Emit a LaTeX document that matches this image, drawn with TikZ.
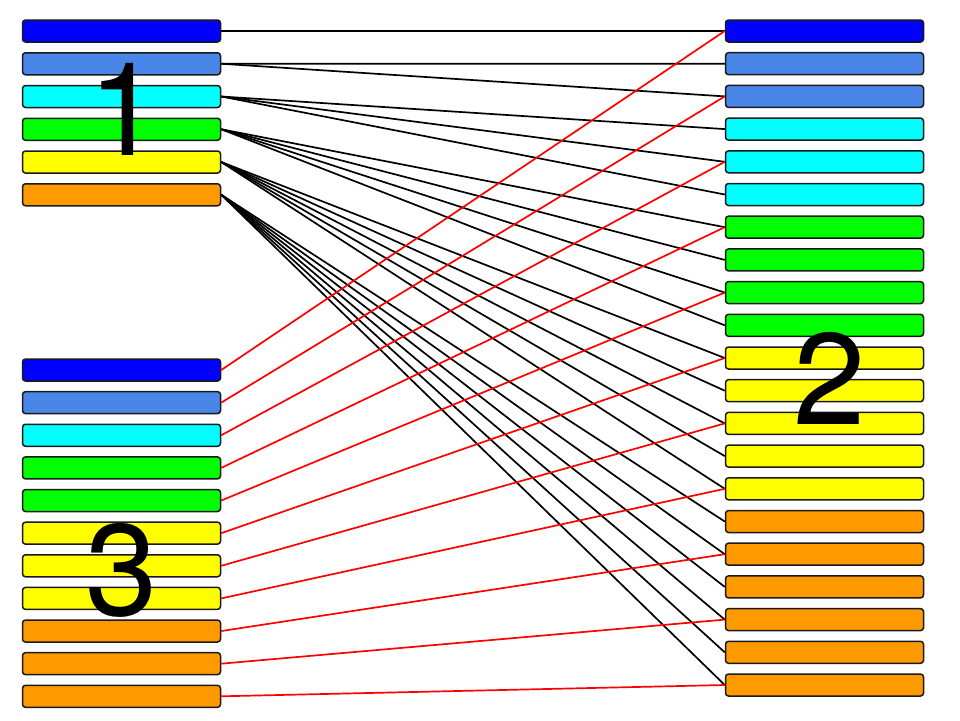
\documentclass[tikz,border=0pt]{standalone}
\usepackage{fontspec}
\setmainfont{TeX Gyre Heros}
\usepackage{tikz}
\definecolor{BarBlue}  {RGB}{0,   0,  255}
\definecolor{BarCorn}  {RGB}{74, 134, 232}
\definecolor{BarCyan}  {RGB}{0,  255, 255}
\definecolor{BarGreen} {RGB}{0,  255,   0}
\definecolor{BarYellow}{RGB}{255, 255,  0}
\definecolor{BarOrange}{RGB}{255, 153,  0}
\definecolor{LinkRed}  {RGB}{255,   0,  0}

\begin{document}
\begin{tikzpicture}[x=1pt, y=-1pt,
    bar/.style={draw=black!90, line width=1.5pt, rounded corners=3pt,
      minimum width=198pt, minimum height=22pt, inner sep=0pt},
    link/.style={line width=1.7pt},
    bignum/.style={font=\fontsize{130}{130}\selectfont, inner sep=0pt}]
  \useasboundingbox (0,0) rectangle (960,720);

  % group 1, top left
  \foreach \c [count=\i] in {BarBlue, BarCorn, BarCyan, BarGreen, BarYellow, BarOrange}
    \node[bar, fill=\c] (t\i) at (121.5, {31+(\i-1)*32.75}) {};

  % group 2, right
  \foreach \c [count=\i] in {BarBlue, BarCorn, BarCorn, BarCyan, BarCyan, BarCyan,
      BarGreen, BarGreen, BarGreen, BarGreen,
      BarYellow, BarYellow, BarYellow, BarYellow, BarYellow,
      BarOrange, BarOrange, BarOrange, BarOrange, BarOrange, BarOrange}
    \node[bar, fill=\c] (r\i) at (824.5, {31+(\i-1)*32.7}) {};

  % group 3, bottom left
  \foreach \c [count=\i] in {BarBlue, BarCorn, BarCyan, BarGreen, BarGreen,
      BarYellow, BarYellow, BarYellow, BarOrange, BarOrange, BarOrange}
    \node[bar, fill=\c] (b\i) at (121.5, {370+(\i-1)*32.63}) {};

  % 1 -> 2
  \foreach \i in {1,...,6}
    \foreach \j in {1,...,\i} {
      \pgfmathtruncatemacro{\k}{\i*(\i-1)/2+\j}
      \draw[link] (t\i.east) -- (r\k.west);
    }

  % 3 -> 2
  \foreach \i in {1,...,11} {
    \pgfmathtruncatemacro{\k}{2*\i-1}
    \draw[link, LinkRed] (b\i.east) -- (r\k.west);
  }

  \node[bignum] (n1) at (125, 109.5) {1};
  \node[bignum] (n2) at (830, 378) {2};
  \node[bignum] (n3) at (121.5, 570.5) {3};
\end{tikzpicture}
\end{document}
